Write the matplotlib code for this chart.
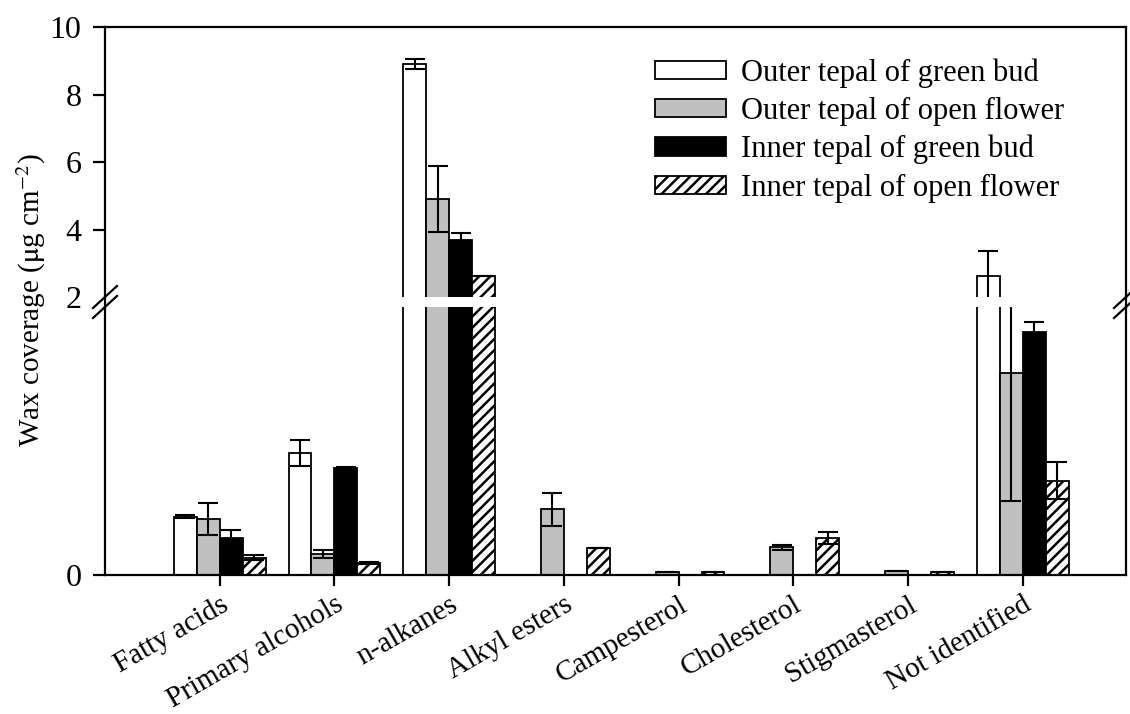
import numpy as np
import matplotlib
matplotlib.use("Agg")
from matplotlib import pyplot as plt
from matplotlib.lines import Line2D

plt.rcParams['font.family'] = ['Liberation Serif', 'DejaVu Serif']
plt.rcParams['hatch.linewidth'] = 1.8
plt.rcParams['mathtext.fontset'] = 'stix'

# Données (µg cm-2)
categories = ['Fatty acids', 'Primary alcohols', 'n-alkanes', 'Alkyl esters',
              'Campesterol', 'Cholesterol', 'Stigmasterol', 'Not identified']
series_names = ['Outer tepal of green bud', 'Outer tepal of open flower',
                'Inner tepal of green bud', 'Inner tepal of open flower']
outer_bud = [0.435, 0.91, 8.90, 0, 0, 0, 0, 2.63]
outer_bud_err = [0.01, 0.095, 0.15, 0, 0, 0, 0, 0.73]
outer_open = [0.415, 0.155, 4.90, 0.49, 0.02, 0.207, 0.03, 1.505]
outer_open_err = [0.12, 0.03, 0.98, 0.124, 0, 0.017, 0, 0.95]
inner_bud = [0.275, 0.80, 3.69, 0, 0, 0, 0, 1.81]
inner_bud_err = [0.062, 0.005, 0.2, 0, 0, 0, 0, 0.075]
inner_open = [0.13, 0.09, 2.62, 0.205, 0.02, 0.279, 0.02, 0.705]
inner_open_err = [0.02, 0.005, 0, 0, 0, 0.044, 0, 0.137]

values = [outer_bud, outer_open, inner_bud, inner_open]
errors = [outer_bud_err, outer_open_err, inner_bud_err, inner_open_err]
styles = [dict(color='white'), dict(color='#c0c0c0'), dict(color='black'),
          dict(color='white', hatch='///')]

########## Figure ##########
fig = plt.figure(figsize=(11.3, 7.14), dpi=100)
left, width = 105 / 1130, (1126 - 105) / 1130
ax_low = fig.add_axes([left, 1 - 575 / 714, width, (575 - 307) / 714])
ax_up = fig.add_axes([left, 1 - 297 / 714, width, (297 - 27) / 714])

x = np.arange(len(categories))
bw = 0.2

for ax, (lo, hi) in [(ax_low, (0, 2)), (ax_up, (2, 10))]:
    for i, (vals, errs, st) in enumerate(zip(values, errors, styles)):
        pos = x + (i - 1.5) * bw
        ax.bar(pos, vals, bw, facecolor=st['color'], hatch=st.get('hatch'),
               edgecolor='black', linewidth=1.3, zorder=2)
        # barres d'erreur seulement dans l'axe où se trouve le haut de la barre
        for p, v, e in zip(pos, vals, errs):
            if v > 0 and lo <= v < hi:
                ax.errorbar(p, v, yerr=e, fmt='none', ecolor='black',
                            elinewidth=1.5, capsize=7, capthick=1.5, zorder=3)
    ax.set_xlim(-1, 7.9)
    ax.set_ylim(lo, hi)
    for s in ax.spines.values():
        s.set_linewidth(1.6)

ax_low.spines['top'].set_visible(False)
ax_up.spines['bottom'].set_visible(False)

ax_low.set_yticks([0])
ax_low.set_xticks(x)
ax_low.set_xticklabels(categories, rotation=30, ha='right', rotation_mode='anchor')
ax_low.tick_params(axis='x', direction='out', length=8, width=1.6, labelsize=21, pad=4)
ax_low.tick_params(axis='y', direction='out', length=9, width=1.6, labelsize=23, pad=8)

ax_up.set_yticks([2, 4, 6, 8, 10])
ax_up.set_xticks([])
ax_up.tick_params(axis='y', direction='out', length=9, width=1.6, labelsize=23, pad=8)
ax_up.yaxis.get_major_ticks()[0].tick1line.set_visible(False)

# Raccord des axes et marques de coupure
yb, yt = 1 - 307 / 714, 1 - 297 / 714
xr = 1126 / 1130
for xx in (left, xr):
    fig.add_artist(Line2D([xx, xx], [yb, yt], color='black', lw=1.6))
    for dy in (-5, 5):
        yc = 1 - (302 + dy) / 714
        fig.add_artist(Line2D([xx - 12 / 1130, xx + 12 / 1130],
                              [yc - 11 / 714, yc + 11 / 714], color='black', lw=1.6))

fig.text(0.028, 1 - 300 / 714, r'Wax coverage ($\mathrm{\mu}$g cm$^{-2}$)',
         rotation=90, va='center', ha='center', fontsize=21)

# Légende
handles = [plt.Rectangle((0, 0), 1, 1, facecolor=st['color'], hatch=st.get('hatch'),
                         edgecolor='black', linewidth=1.3) for st in styles]
ax_up.legend(handles, series_names, loc='upper left', bbox_to_anchor=(0.539, 0.885),
             frameon=False, fontsize=22, handlelength=2.3, handleheight=0.55,
             labelspacing=0.3, handletextpad=0.5, borderpad=0, borderaxespad=0)

fig.savefig('out.png', dpi=100)
